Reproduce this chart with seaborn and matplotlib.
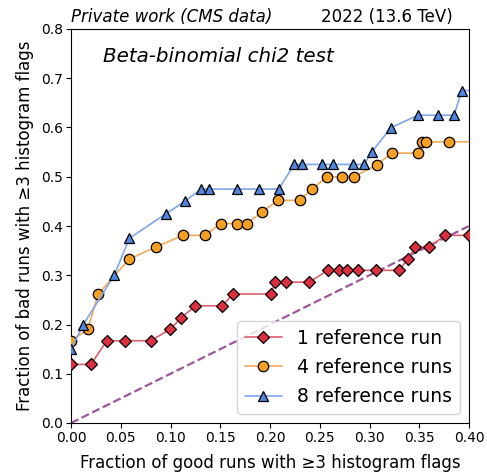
import numpy as np
import pandas as pd
import matplotlib
matplotlib.use("Agg")
import matplotlib.pyplot as plt
import seaborn as sns

# ---- data ----
x_1ref = [0.0, 0.020, 0.036, 0.054, 0.080, 0.0995, 0.111, 0.125, 0.152, 0.163, 0.201,
          0.205, 0.216, 0.2395, 0.258, 0.2696, 0.2777, 0.2887, 0.307, 0.3296, 0.3384,
          0.346, 0.3598, 0.376, 0.400]
y_1ref = [0.119, 0.119, 0.167, 0.167, 0.167, 0.190, 0.214, 0.238, 0.238, 0.262, 0.262,
          0.286, 0.286, 0.286, 0.310, 0.310, 0.310, 0.310, 0.310, 0.310, 0.333,
          0.357, 0.357, 0.381, 0.381]

x_4ref = [0.0, 0.0168, 0.0274, 0.0586, 0.0851, 0.1123, 0.1344, 0.1508, 0.1665, 0.1766,
          0.1923, 0.2077, 0.2302, 0.2425, 0.2576, 0.2724, 0.2844, 0.3072, 0.3223, 0.3484,
          0.3531, 0.3565, 0.3796, 0.45]
y_4ref = [0.167, 0.190, 0.262, 0.333, 0.357, 0.381, 0.381, 0.405, 0.405, 0.405,
          0.429, 0.452, 0.452, 0.476, 0.500, 0.500, 0.500, 0.524, 0.548, 0.548,
          0.571, 0.571, 0.571, 0.571]

x_8ref = [0.0, 0.0124, 0.0435, 0.0586, 0.0955, 0.1143, 0.1307, 0.1387, 0.1665, 0.1892,
          0.2087, 0.2244, 0.2322, 0.252, 0.2636, 0.2831, 0.2945, 0.3022, 0.3216, 0.349,
          0.3685, 0.385, 0.3927, 0.45]
y_8ref = [0.150, 0.200, 0.300, 0.375, 0.425, 0.450, 0.475, 0.475, 0.475, 0.475,
          0.475, 0.525, 0.525, 0.525, 0.525, 0.525, 0.525, 0.550, 0.600, 0.625,
          0.625, 0.625, 0.675, 0.675]

labels = ["1 reference run", "4 reference runs", "8 reference runs"]
diag_x = [0.0, 0.4]
diag_y = [0.0, 0.4]

sns.set_theme(style="ticks")
plt.rcParams['font.family'] = ['DejaVu Sans']
plt.rcParams['axes.edgecolor'] = 'black'
plt.rcParams['axes.linewidth'] = 0.8
plt.rcParams['text.color'] = 'black'
plt.rcParams['axes.labelcolor'] = 'black'

fig = plt.figure(figsize=(4.87, 4.74), dpi=100)
ax = fig.add_axes([71/487, 1 - 423/474, 398/487, 394/474])

series = [
    (x_1ref, y_1ref, labels[0], 'D', '#dc2f3f', '#d9606e', 6.5),
    (x_4ref, y_4ref, labels[1], 'o', '#f5a024', '#f0ab55', 7.5),
    (x_8ref, y_8ref, labels[2], '^', '#4f86e0', '#7ea6ea', 7.5),
]
for xs, ys, lab, mk, fc, lc, ms in series:
    df = pd.DataFrame({"x": xs, "y": ys})
    sns.lineplot(data=df, x="x", y="y", ax=ax, estimator=None, sort=False,
                 color=lc, lw=1.2, marker=mk, markersize=ms,
                 markerfacecolor=fc, markeredgecolor='black', markeredgewidth=0.9,
                 label=lab, zorder=3)

sns.lineplot(x=diag_x, y=diag_y, ax=ax, color='#a0559a', lw=1.6,
             linestyle='--', zorder=2, legend=False)

ax.set_xlim(0, 0.4)
ax.set_ylim(0, 0.8)
ax.set_xticks(np.arange(0, 0.401, 0.05))
ax.set_yticks(np.arange(0, 0.801, 0.1))
ax.xaxis.set_major_formatter(matplotlib.ticker.FormatStrFormatter('%.2f'))
ax.yaxis.set_major_formatter(matplotlib.ticker.FormatStrFormatter('%.1f'))
ax.tick_params(axis='both', labelsize=10, length=3.5, width=0.8, direction='out',
               colors='black', pad=2)
for s in ax.spines.values():
    s.set_visible(True)
    s.set_color('black')

ax.set_xlabel("Fraction of good runs with ≥3 histogram flags", fontsize=12, labelpad=7)
ax.set_ylabel("Fraction of bad runs with ≥3 histogram flags", fontsize=12, labelpad=5)

ax.text(0.0, 1.008, "Private work (CMS data)", transform=ax.transAxes, fontsize=12,
        style='italic', ha='left', va='bottom')
ax.text((453 - 71) / 398, 1.008, "2022 (13.6 TeV)", transform=ax.transAxes, fontsize=12,
        ha='right', va='bottom')
ax.text(0.08, 0.93, "Beta-binomial chi2 test", transform=ax.transAxes, fontsize=14.3,
        style='italic', ha='left', va='center')

leg = ax.legend(loc='lower right', fontsize=13.5, frameon=True, handlelength=2,
                borderpad=0.4, labelspacing=0.55)
leg.get_frame().set_edgecolor('#cccccc')

fig.savefig("out.png", dpi=100)
